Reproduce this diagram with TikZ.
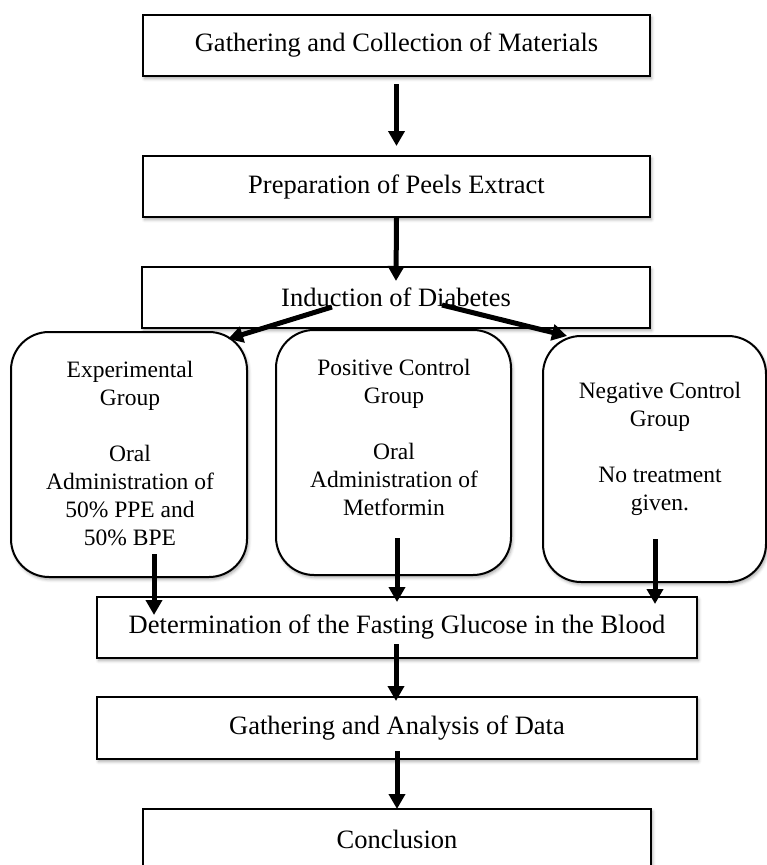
\documentclass[tikz,border=0pt]{standalone}
\usepackage{fontspec}
\setmainfont{Liberation Serif}
\usetikzlibrary{arrows.meta,shadows.blur}
\tikzset{
  shadowed/.style={blur shadow={shadow xshift=1.5pt,shadow yshift=-2.5pt,shadow blur radius=3pt,shadow opacity=35}},
  mainbox/.style={draw=black,line width=2pt,fill=white,shadowed,rectangle,inner sep=0pt,
    font=\fontsize{26.5}{30}\selectfont},
  groupbox/.style={draw=black,line width=2pt,fill=white,shadowed,rectangle,rounded corners=38pt,inner sep=0pt},
  grouptext/.style={anchor=north,align=center,inner sep=0pt,font=\fontsize{23.5}{28}\selectfont},
  flowarrow/.style={line width=5pt,-{Triangle[width=16pt,length=15pt]}}
}
\begin{document}
\begin{tikzpicture}[x=1pt,y=-1pt]
\useasboundingbox (0,0) rectangle (767,865);
\clip (0,0) rectangle (767,865);
% rectangular boxes
\node[mainbox,minimum width=507pt,minimum height=61pt] (b1) at (396.5,45.5) {Gathering and Collection of Materials};
\node[mainbox,minimum width=507pt,minimum height=61pt] (b2) at (396.5,186.5) {Preparation of Peels Extract};
\node[mainbox,minimum width=508pt,minimum height=61pt] (b3) at (396,297.5) {Induction of Diabetes};
% rounded group boxes
\node[groupbox,minimum width=236pt,minimum height=245pt] (r1) at (129,454.5) {};
\node[groupbox,minimum width=235pt,minimum height=245pt] (r2) at (393.5,452.5) {};
\node[groupbox,minimum width=223pt,minimum height=246pt] (r3) at (654.5,459) {};
\node[grouptext] (t1) at (130,361) {Experimental\\Group\\[28pt]Oral\\Administration of\\50\% PPE and\\50\% BPE};
\node[grouptext] (t2) at (394,359) {Positive Control\\Group\\[28pt]Oral\\Administration of\\Metformin};
\node[grouptext] (t3) at (660,382) {Negative Control\\Group\\[28pt]No treatment\\given.};
% lower boxes
\node[mainbox,minimum width=600pt,minimum height=61pt] (b4) at (397,627.5) {Determination of the Fasting Glucose in the Blood};
\node[mainbox,minimum width=600pt,minimum height=62pt] (b5) at (397,728) {Gathering and Analysis of Data};
\node[mainbox,minimum width=508pt,minimum height=61pt] (b6) at (397,839.5) {Conclusion};
% arrows
\draw[flowarrow] ([yshift=-7pt]b1.south) -- ([yshift=9pt]b2.north);
\draw[flowarrow] (b2.south) -- ([yshift=-15pt]b3.north);
\draw[flowarrow] ([shift={(-64pt,-9.5pt)}]b3.center) -- ([shift={(99pt,-8pt)}]r1.north);
\draw[flowarrow] ([shift={(46pt,-7.5pt)}]b3.center) -- ([shift={(-87.5pt,-1pt)}]r3.north);
\draw[flowarrow] ([shift={(25pt,24pt)}]r1.south) -- ([shift={(-243pt,-19pt)}]b4.north);
\draw[flowarrow] ([shift={(0pt,38pt)}]r2.south -| b4.north) -- ([yshift=-6pt]b4.north);
\draw[flowarrow] ([shift={(0.5pt,44pt)}]r3.south) -- ([shift={(258pt,-8pt)}]b4.north);
\draw[flowarrow] ([shift={(-1pt,15pt)}]b4.south) -- ([shift={(-1pt,-5pt)}]b5.north);
\draw[flowarrow] ([yshift=9pt]b5.south) -- ([yshift=-1pt]b6.north);
\end{tikzpicture}
\end{document}
